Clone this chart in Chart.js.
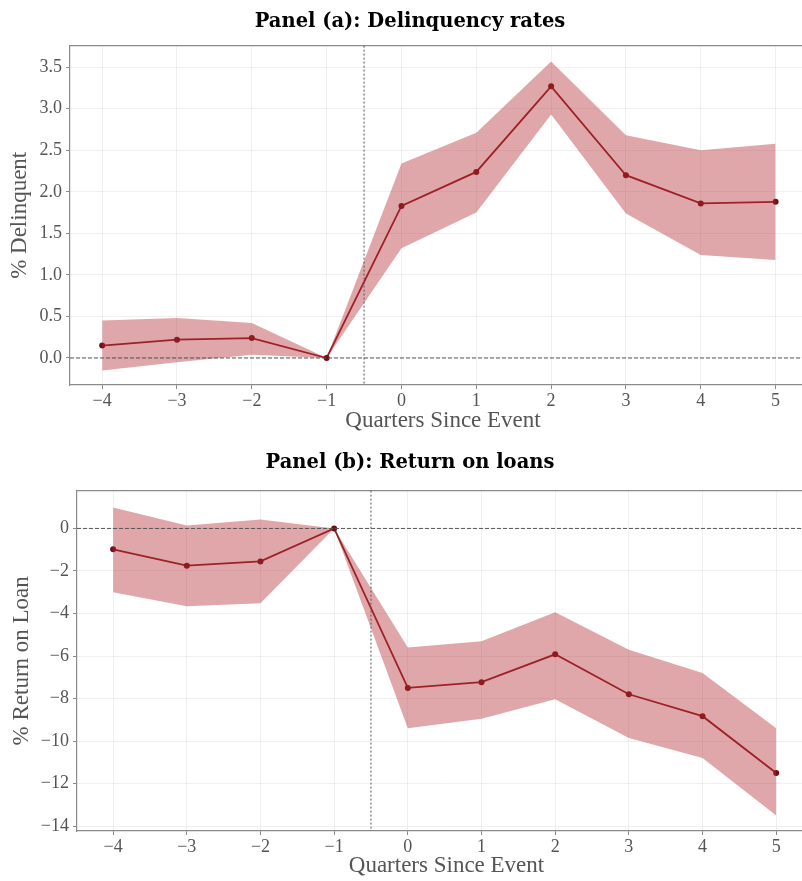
<!DOCTYPE html>
<html>
<head>
<meta charset="utf-8">
<script src="https://cdn.jsdelivr.net/npm/chart.js@4/dist/chart.umd.min.js"></script>
<style>
  html, body { margin: 0; padding: 0; background: #fff; overflow: hidden; }
  canvas { display: block; }
</style>
</head>
<body>
<canvas id="panelA" width="820" height="440"></canvas>
<canvas id="panelB" width="820" height="441"></canvas>
<script>
// event-study estimates with 95% bands, by quarter relative to the event
var quarters = [-4, -3, -2, -1, 0, 1, 2, 3, 4, 5];

var delinqEst   = [0.15, 0.22, 0.24, 0, 1.83, 2.24, 3.27, 2.20, 1.86, 1.88];
var delinqUpper = [0.45, 0.48, 0.42, 0, 2.34, 2.71, 3.57, 2.68, 2.50, 2.58];
var delinqLower = [-0.15, -0.05, 0.04, 0, 1.32, 1.75, 2.93, 1.74, 1.24, 1.18];
var delinqTicks = [0, 0.5, 1, 1.5, 2, 2.5, 3, 3.5];

var returnEst   = [-0.98, -1.75, -1.55, 0, -7.5, -7.23, -5.92, -7.8, -8.83, -11.5];
var returnUpper = [0.99, 0.14, 0.42, 0, -5.6, -5.3, -3.94, -5.7, -6.8, -9.4];
var returnLower = [-3.0, -3.66, -3.52, 0, -9.4, -8.95, -8.03, -9.86, -10.8, -13.5];
var returnTicks = [-14, -12, -10, -8, -6, -4, -2, 0];

var eventLine = -0.5;

var lineColor = '#8b1a1f';
var bandColor = 'rgba(180,45,52,0.42)';
var gridColor = 'rgba(0,0,0,0.06)';
var axisColor = '#8a8a8a';
var textColor = '#555';
var serif = '"Liberation Serif", "Times New Roman", serif';

// top edge of the frame plus the zero line and the event marker
var framePlugin = {
  id: 'frame',
  afterDatasetsDraw: function (chart) {
    var a = chart.chartArea, ctx = chart.ctx;
    var y0 = chart.scales.y.getPixelForValue(0);
    var xe = chart.scales.x.getPixelForValue(eventLine);
    ctx.save();
    ctx.strokeStyle = axisColor;
    ctx.lineWidth = 1.2;
    ctx.beginPath();
    ctx.moveTo(a.left, a.top);
    ctx.lineTo(a.right, a.top);
    ctx.stroke();

    ctx.strokeStyle = '#555';
    ctx.lineWidth = 1;
    ctx.setLineDash([4, 2]);
    ctx.beginPath();
    ctx.moveTo(a.left, y0);
    ctx.lineTo(a.right, y0);
    ctx.stroke();

    ctx.setLineDash([2, 2]);
    ctx.beginPath();
    ctx.moveTo(xe, a.top);
    ctx.lineTo(xe, a.bottom);
    ctx.stroke();
    ctx.restore();
  }
};

function minus(s) { return String(s).replace('-', '\u2212'); }

function makePanel(id, p) {
  var pts = function (vals) {
    return quarters.map(function (q, i) { return { x: q, y: vals[i] }; });
  };
  return new Chart(document.getElementById(id), {
    type: 'line',
    data: {
      datasets: [
        { data: pts(p.upper), borderWidth: 0, pointRadius: 0, fill: '+1', backgroundColor: bandColor },
        { data: pts(p.lower), borderWidth: 0, pointRadius: 0, fill: false },
        { data: pts(p.est), borderColor: lineColor, borderWidth: 1.8, pointRadius: 3,
          pointBackgroundColor: '#6e1015', pointBorderWidth: 0, fill: false }
      ]
    },
    options: {
      responsive: false,
      animation: false,
      layout: { padding: 0 },
      plugins: {
        legend: { display: false },
        tooltip: { enabled: false },
        title: {
          display: true,
          text: p.title,
          color: '#000',
          font: { family: '"DejaVu Serif", serif', weight: 'bold', size: 19.5, lineHeight: 1.2 },
          padding: { top: p.titleTop, bottom: p.titleBottom }
        }
      },
      scales: {
        x: {
          type: 'linear',
          min: p.xMin,
          max: p.xMax,
          afterBuildTicks: function (s) { s.ticks = quarters.map(function (v) { return { value: v }; }); },
          afterFit: function (s) { s.height = p.xAxisHeight; },
          grid: { color: gridColor, tickColor: axisColor, tickLength: 4 },
          border: { color: axisColor, width: 1.2 },
          ticks: {
            color: textColor, padding: 1, maxRotation: 0,
            font: { family: serif, size: 18 },
            callback: function (v) { return minus(v); }
          },
          title: {
            display: true, text: 'Quarters Since Event', color: textColor,
            font: { family: serif, size: 23, lineHeight: 1.2 },
            padding: { top: 0, bottom: p.xTitlePad }
          }
        },
        y: {
          min: p.yMin,
          max: p.yMax,
          afterBuildTicks: function (s) { s.ticks = p.ticks.map(function (v) { return { value: v }; }); },
          afterFit: function (s) { s.width = p.yAxisWidth; },
          grid: { color: gridColor, tickColor: axisColor, tickLength: 4 },
          border: { color: axisColor, width: 1.2 },
          ticks: {
            color: textColor, padding: 4,
            font: { family: serif, size: 18 },
            callback: function (v) { return minus(p.decimals ? v.toFixed(p.decimals) : v); }
          },
          title: {
            display: true, text: p.yTitle, color: textColor,
            font: { family: serif, size: 23, lineHeight: 1.2 },
            padding: { top: p.yTitlePad, bottom: 0 }
          }
        }
      }
    },
    plugins: [framePlugin]
  });
}

makePanel('panelA', {
  title: 'Panel (a): Delinquency rates',
  yTitle: '% Delinquent',
  est: delinqEst, upper: delinqUpper, lower: delinqLower, ticks: delinqTicks,
  decimals: 1,
  xMin: -4.43, xMax: 5.54, yMin: -0.325, yMax: 3.76,
  titleTop: 10.6, titleBottom: 11.6,
  xAxisHeight: 55, xTitlePad: 5.2,
  yAxisWidth: 70, yTitlePad: 6.2
});

makePanel('panelB', {
  title: 'Panel (b): Return on loans',
  yTitle: '% Return on Loan',
  est: returnEst, upper: returnUpper, lower: returnLower, ticks: returnTicks,
  decimals: 0,
  xMin: -4.49, xMax: 5.54, yMin: -14.23, yMax: 1.78,
  titleTop: 11.6, titleBottom: 15.6,
  xAxisHeight: 50, xTitlePad: 1.2,
  yAxisWidth: 77, yTitlePad: 8
});
</script>
</body>
</html>
